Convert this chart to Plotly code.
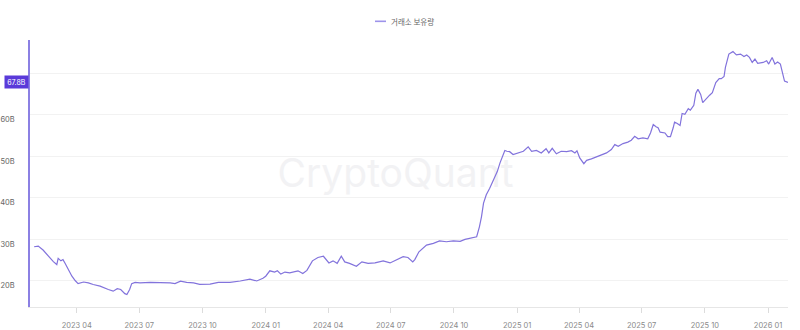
import plotly.graph_objects as go

dates = [
    "2023-01-29","2023-02-04","2023-02-11","2023-02-19","2023-02-26","2023-03-03","2023-03-05","2023-03-09",
    "2023-03-12","2023-03-15","2023-03-20","2023-03-25","2023-03-30","2023-04-03","2023-04-11","2023-04-18",
    "2023-04-25","2023-05-05","2023-05-17","2023-05-24","2023-05-30","2023-06-04","2023-06-10","2023-06-13",
    "2023-06-17","2023-06-20","2023-06-25","2023-07-02","2023-07-17","2023-07-31","2023-08-15","2023-08-22",
    "2023-08-30","2023-09-08","2023-09-18","2023-09-27","2023-10-12","2023-10-24","2023-11-10","2023-11-25",
    "2023-12-09","2023-12-19","2023-12-28","2024-01-01","2024-01-07","2024-01-14","2024-01-18","2024-01-23",
    "2024-01-29","2024-02-05","2024-02-17","2024-02-24","2024-03-01","2024-03-09","2024-03-17","2024-03-25",
    "2024-03-29","2024-04-02","2024-04-08","2024-04-14","2024-04-20","2024-04-25","2024-05-02","2024-05-12",
    "2024-05-20","2024-05-29","2024-06-08","2024-06-20","2024-06-30","2024-07-09","2024-07-19","2024-07-26",
    "2024-08-02","2024-08-05","2024-08-11","2024-08-22","2024-09-01","2024-09-10","2024-09-20","2024-09-30",
    "2024-10-10","2024-10-17","2024-10-24","2024-11-03","2024-11-07","2024-11-10","2024-11-13","2024-11-17",
    "2024-11-22","2024-11-26","2024-11-29","2024-12-03","2024-12-07","2024-12-11","2024-12-14","2024-12-17",
    "2024-12-21","2024-12-26","2025-01-02","2025-01-10","2025-01-17","2025-01-22","2025-01-29","2025-02-05",
    "2025-02-12","2025-02-16","2025-02-21","2025-02-27","2025-03-06","2025-03-14","2025-03-21","2025-03-26",
    "2025-03-29","2025-04-02","2025-04-08","2025-04-12","2025-04-19","2025-04-26","2025-05-04","2025-05-11",
    "2025-05-18","2025-05-23","2025-05-28","2025-06-04","2025-06-11","2025-06-16","2025-06-21","2025-06-26",
    "2025-07-03","2025-07-10","2025-07-14","2025-07-18","2025-07-22","2025-07-25","2025-07-28","2025-08-04",
    "2025-08-08","2025-08-12","2025-08-16","2025-08-18","2025-08-22","2025-08-26","2025-08-29","2025-09-02",
    "2025-09-07","2025-09-10","2025-09-15","2025-09-18","2025-09-21","2025-09-25","2025-09-28","2025-10-03",
    "2025-10-08","2025-10-12","2025-10-17","2025-10-22","2025-10-25","2025-10-29","2025-10-31","2025-11-05",
    "2025-11-11","2025-11-16","2025-11-22","2025-11-27","2025-12-01","2025-12-05","2025-12-09","2025-12-13",
    "2025-12-17","2025-12-25","2025-12-30","2026-01-02","2026-01-07","2026-01-11","2026-01-15","2026-01-19",
    "2026-01-22","2026-01-25","2026-01-30",
]

reserve_b = [
    28.2, 28.35, 27.4, 25.8, 24.6, 23.9, 25.4, 24.8,
    25.1, 24.2, 22.5, 21.1, 20.0, 19.3, 19.7, 19.5,
    19.1, 18.7, 17.9, 17.5, 18.1, 17.9, 16.9, 16.7,
    17.9, 19.3, 19.6, 19.5, 19.6, 19.6, 19.5, 19.3,
    19.9, 19.6, 19.5, 19.15, 19.2, 19.6, 19.6, 19.95,
    20.4, 19.95, 20.6, 21.1, 22.4, 22.1, 22.4, 21.6,
    22.1, 21.9, 22.4, 21.75, 22.5, 24.8, 25.6, 25.9,
    25.1, 24.3, 24.8, 24.2, 25.9, 24.55, 24.2, 23.5,
    24.55, 24.2, 24.3, 24.8, 24.3, 25.1, 25.8, 25.6,
    24.55, 25.1, 26.97, 28.6, 29.0, 29.6, 29.4, 29.6,
    29.5, 29.98, 30.3, 30.6, 33.0, 35.4, 38.7, 40.7,
    42.3, 43.9, 45.1, 46.3, 48.4, 50.0, 51.4, 51.2,
    51.1, 50.4, 50.8, 51.2, 52.25, 51.2, 51.4, 50.8,
    51.8, 50.8, 51.9, 50.6, 51.2, 51.1, 51.35, 50.8,
    51.3, 49.6, 48.2, 49.0, 49.35, 49.8, 50.4, 50.8,
    51.6, 52.8, 52.4, 53.05, 53.4, 53.85, 54.8, 54.2,
    54.4, 54.2, 55.6, 57.65, 57.1, 56.85, 55.8, 55.6,
    54.7, 54.7, 56.85, 58.2, 57.9, 57.4, 60.3, 60.1,
    61.45, 61.1, 62.25, 65.2, 66.1, 64.9, 62.9, 63.9,
    64.7, 65.3, 67.75, 68.7, 68.7, 69.2, 71.4, 74.6,
    75.2, 74.4, 74.6, 74.0, 74.4, 73.8, 72.6, 73.4,
    72.4, 72.6, 73.0, 72.2, 73.8, 72.2, 72.7, 72.2,
    70.2, 68.1, 67.8,
]

y_tick_vals = [20, 30, 40, 50, 60, 70]
y_tick_text = ["20B", "30B", "40B", "50B", "60B", ""]
series_name = "거래소 보유량"
last_label = "67.8B"
last_value = 67.8

LINE = "#8273dc"
BADGE = "#5a3ad9"

fig = go.Figure()

# watermark (drawn first so the line stays on top)
fig.add_trace(go.Scatter(
    x=["2024-07-08"], y=[44.9], mode="text", text=["CryptoQuant"],
    textfont=dict(family="Inter", size=39, color="#f2f2f4"),
    hoverinfo="skip", showlegend=False,
))

fig.add_trace(go.Scatter(
    x=dates, y=reserve_b, mode="lines", name=series_name,
    line=dict(color=LINE, width=1.2), showlegend=False,
))

fig.update_layout(
    width=800, height=330,
    margin=dict(l=30, r=12, t=40, b=23, autoexpand=False),
    paper_bgcolor="white", plot_bgcolor="white",
    font=dict(family="Inter, Noto Sans CJK KR", color="#666"),
    showlegend=False,
)

fig.update_xaxes(
    range=["2023-01-23", "2026-01-30 02:00"],
    tickformat="%Y %m", dtick="M3", tick0="2023-01-01",
    showgrid=False, showline=True, linecolor="#e6e6e6", linewidth=1,
    ticks="outside", ticklen=5, tickcolor="#dcdcdc", tickwidth=1,
    tickfont=dict(size=7.5, color="#8a8a8a"),
    ticklabelstandoff=6, zeroline=False, automargin=False,
)

fig.update_yaxes(
    range=[13.68, 78.0],
    tickvals=y_tick_vals, ticktext=y_tick_text,
    showgrid=True, gridcolor="#f2f2f2", gridwidth=1,
    showline=True, linecolor="#8b80e3", linewidth=1.6,
    ticks="", tickfont=dict(size=7.5, color="#666"),
    ticklabelstandoff=12, ticklabelshift=5, zeroline=False, automargin=False,
)

# last value badge
fig.add_annotation(
    xref="paper", x=0, yref="y", y=last_value, xanchor="right", yanchor="middle",
    text=last_label, showarrow=False, bgcolor=BADGE,
    font=dict(size=7, color="white", family="Inter"),
    borderpad=2, width=19, height=8, xshift=-1,
)

# custom legend
fig.add_shape(type="line", xref="paper", yref="paper",
              x0=(375 - 30) / 758, x1=(386 - 30) / 758, y0=1.07, y1=1.07,
              line=dict(color="#9d93ea", width=1.6))
fig.add_annotation(
    xref="paper", yref="paper", x=(389 - 30) / 758, y=1.07, xanchor="left", yanchor="middle",
    text=series_name, showarrow=False,
    font=dict(size=7.5, color="#666", family="Noto Sans CJK KR"),
)

fig.write_html("out.html")
